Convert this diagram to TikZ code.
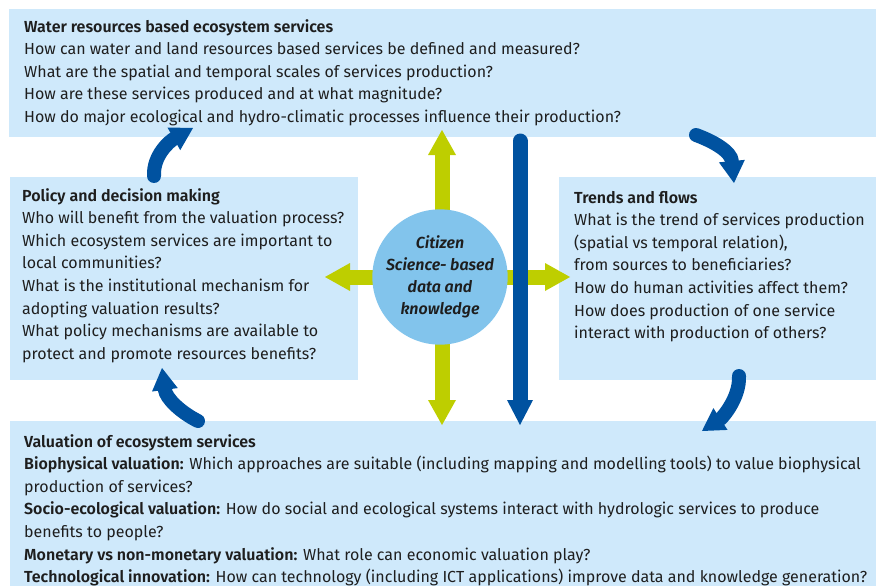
\documentclass[tikz,border=0pt]{standalone}
\usepackage{fontspec}
\setmainfont{Fira Sans}[BoldFont={Fira Sans SemiBold},BoldItalicFont={Fira Sans SemiBold Italic}]
\usetikzlibrary{arrows.meta, positioning}
\definecolor{panelcolor}{RGB}{207,233,251}
\definecolor{hubcolor}{RGB}{130,196,236}
\definecolor{limecolor}{RGB}{190,206,0}
\definecolor{navycolor}{RGB}{0,82,160}
\definecolor{inkcolor}{RGB}{30,30,30}

\begin{document}
\begin{tikzpicture}[
    x=1pt, y=-1pt,
    panel/.style={fill=panelcolor, inner sep=0pt, anchor=north west},
    qtext/.style={anchor=base west, inner sep=0pt, align=left, text=inkcolor, font=\fontsize{16}{22.6}\selectfont},
    hub/.style={circle, fill=hubcolor, minimum size=134pt, inner sep=0pt, align=center, text=inkcolor, font=\fontsize{16}{22}\selectfont\bfseries\itshape},
    limearrow/.style={{Triangle[length=25pt,width=28pt,line width=0pt]}-{Triangle[length=25pt,width=28pt,line width=0pt]}, line width=15pt, draw=limecolor},
    navyarrow/.style={-{Triangle[length=25pt,width=26pt,line width=0pt]}, line width=15pt, line cap=round, draw=navycolor},
    cyclearrow/.style={-{Triangle[length=22pt,width=26pt,line width=0pt]}, line width=14pt, line cap=round, draw=navycolor}
]
    \useasboundingbox (0,0) rectangle (876,586);

    % panels
    \node[panel, minimum width=867pt, minimum height=128pt] (water) at (9,9) {};
    \node[panel, minimum width=348pt, minimum height=203pt] (policy) at (10,177) {};
    \node[panel, minimum width=317pt, minimum height=203pt] (trends) at (559,177) {};
    \node[panel, minimum width=866pt, minimum height=165pt] (valuation) at (10,421) {};

    % texts, placed at the baseline of their last line
    \node[qtext] (watertext) at ([shift={(15,113.4)}]water.north west) {\textbf{Water resources based ecosystem services}\\
        How can water and land resources based services be defined and measured?\\
        What are the spatial and temporal scales of services production?\\
        How are these services produced and at what magnitude?\\
        How do major ecological and hydro-climatic processes influence their production?};
    \node[qtext] (policytext) at ([shift={(12,182.2)}]policy.north west) {\textbf{Policy and decision making}\\
        Who will benefit from the valuation process?\\
        Which ecosystem services are important to\\
        local communities?\\
        What is the institutional mechanism for\\
        adopting valuation results?\\
        What policy mechanisms are available to\\
        protect and promote resources benefits?};
    \node[qtext] (trendstext) at ([shift={(15,161.6)}]trends.north west) {\textbf{Trends and flows}\\
        What is the trend of services production\\
        (spatial vs temporal relation),\\
        from sources to beneficiaries?\\
        How do human activities affect them?\\
        How does production of one service\\
        interact with production of others?};
    \node[qtext] (valuationtext) at ([shift={(14,161.6)}]valuation.north west) {\textbf{Valuation of ecosystem services}\\
        \textbf{Biophysical valuation:} Which approaches are suitable (including mapping and modelling tools) to value biophysical\\
        production of services?\\
        \textbf{Socio-ecological valuation:} How do social and ecological systems interact with hydrologic services to produce\\
        benefits to people?\\
        \textbf{Monetary vs non-monetary valuation:} What role can economic valuation play?\\
        \textbf{Technological innovation:} How can technology (including ICT applications) improve data and knowledge generation?};

    % arrow ends
    \coordinate (limeup) at (442,130);
    \coordinate (limedown) at (442,425);
    \coordinate (limeleft) at (325,277);
    \coordinate (limeright) at (570,277);
    \coordinate (navytop) at (520,141);
    \coordinate (navybottom) at (520,425);

    \draw[limearrow] (limeup) -- (limedown);
    \draw[limearrow] (limeleft) -- (limeright);
    \draw[navyarrow] (navytop) -- (navybottom);

    \node[hub] (citizen) at (440,277) {Citizen\\Science- based\\data and\\knowledge};

    % cycle between panels
    \coordinate (c1a) at (696,135);
    \coordinate (c1b) at (734,183);
    \coordinate (c2a) at (739,376);
    \coordinate (c2b) at (702,431);
    \coordinate (c3a) at (198,421);
    \coordinate (c3b) at (162,368);
    \coordinate (c4a) at (154,176);
    \coordinate (c4b) at (193,128);

    \draw[cyclearrow] (c1a) .. controls (715,142) and (731,152) .. (c1b);
    \draw[cyclearrow] (c2a) .. controls (740,398) and (722,418) .. (c2b);
    \draw[cyclearrow] (c3a) .. controls (180,412) and (166,398) .. (c3b);
    \draw[cyclearrow] (c4a) .. controls (153,155) and (170,141) .. (c4b);
\end{tikzpicture}
\end{document}
